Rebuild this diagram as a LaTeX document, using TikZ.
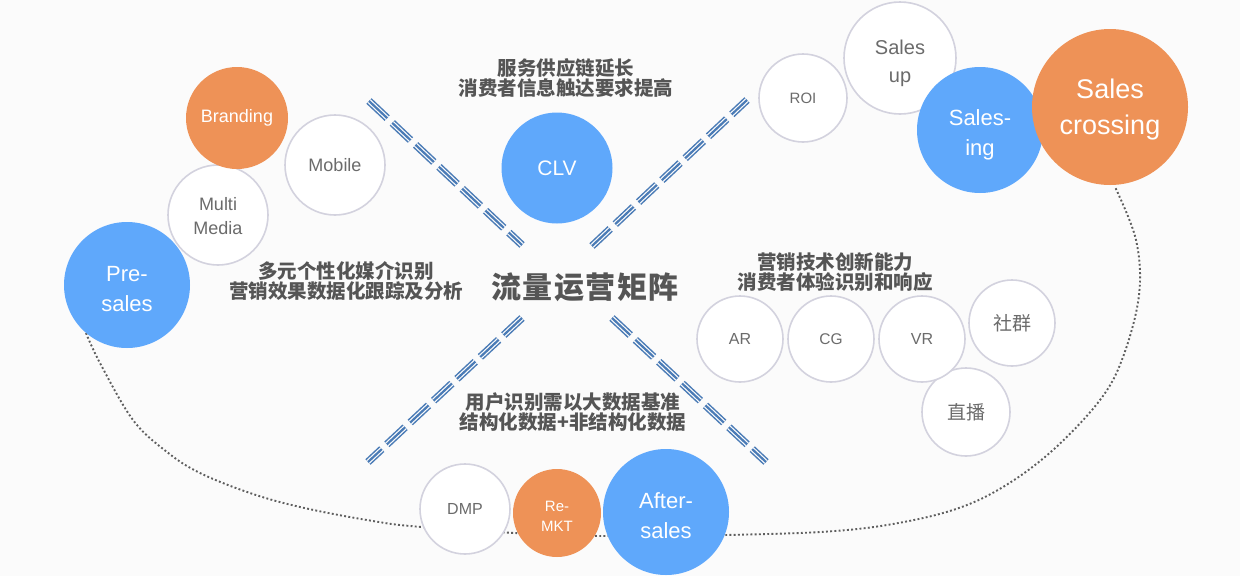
\documentclass[tikz,border=0pt]{standalone}
\usepackage{fontspec}
\setmainfont{Liberation Sans}
\newfontfamily\cjk{Noto Sans CJK SC}
\newfontfamily\cjkbig[LetterSpace=5]{Noto Sans CJK SC}
\newcommand\fsz[2]{\fontsize{#1}{#2}\selectfont}
\definecolor{bgc}{HTML}{FBFBFB}
\definecolor{orng}{HTML}{EE9257}
\definecolor{blu}{HTML}{5FA8FB}
\definecolor{ring}{HTML}{D3D2DE}
\definecolor{gtext}{HTML}{6B6B6B}
\definecolor{labc}{HTML}{555555}
\definecolor{lblue}{HTML}{4A7BB6}
\definecolor{dotc}{HTML}{5E5E5E}
\tikzset{
  circ/.style={circle, inner sep=0pt, align=center},
  wcirc/.style={circ, fill=white, draw=ring, line width=1.6pt, text=gtext},
  ocirc/.style={circ, fill=orng, text=white},
  bcirc/.style={circ, fill=blu, text=white},
  ctext/.style={inner sep=0pt, align=center},
  lab/.style={inner sep=0pt, align=center, text=labc, font=\cjk\bfseries\fsz{19.5}{20.5}},
  tri/.style={line width=7.6pt, draw=lblue, dash pattern=on 25pt off 7pt,
    postaction={draw=bgc, line width=4.6pt, dash pattern=on 25pt off 7pt},
    postaction={draw=lblue, line width=2.2pt, dash pattern=on 25pt off 7pt}},
  dotline/.style={draw=dotc, line width=1.9pt, dash pattern=on 1.9pt off 2.3pt}
}
\begin{document}
\begin{tikzpicture}[x=1pt,y=-1pt]
\useasboundingbox (0,0) rectangle (1240,576);
\fill[bgc] (0,0) rectangle (1240,576);

% dotted orbit
\draw[dotline] plot[smooth, tension=0.6] coordinates {
  (86,333) (100,363) (133,420) (167,452) (200,473) (250,493) (300,507)
  (367,520) (422,527) (557,535) (660,536) (727,535) (820,532) (887,525)
  (953,510) (1003,487) (1053,450) (1100,400) (1123,357) (1139,295)
  (1136,240) (1115,187)};

% triple dashed diagonals
\coordinate (ul1) at (369,101); \coordinate (ul2) at (522,245);
\coordinate (ur1) at (592,246); \coordinate (ur2) at (747,100);
\coordinate (ll1) at (368,462); \coordinate (ll2) at (522,318);
\coordinate (lr1) at (612,318); \coordinate (lr2) at (766,462);
\draw[tri] (ul1) -- (ul2);
\draw[tri] (ur1) -- (ur2);
\draw[tri] (ll2) -- (ll1);
\draw[tri] (lr1) -- (lr2);

% left cluster
\node[wcirc, minimum size=100pt] (multi) at (218,215) {};
\node[ctext, text=gtext, font=\fsz{18}{24}] (multit) at (218,216) {Multi\\Media};
\node[ocirc, minimum size=102pt, font=\fsz{18}{22}] (brand) at (237,118) {Branding};
\node[wcirc, minimum size=100pt, font=\fsz{18}{22}] (mobile) at (335,165) {Mobile};
\node[bcirc, minimum size=126pt] (pre) at (127,285) {};
\node[ctext, text=white, font=\fsz{22}{30}] (pret) at (127,289) {Pre-\\sales};

% top
\node[bcirc, minimum size=111pt, font=\fsz{21}{25}] (clv) at (557,168) {CLV};

% top right cluster
\node[wcirc, minimum size=88pt, font=\fsz{15}{20}] (roi) at (803,98) {ROI};
\node[wcirc, minimum size=112pt] (sup) at (900,58) {};
\node[ctext, text=gtext, font=\fsz{20}{28}] (supt) at (900,63) {Sales\\up};
\node[bcirc, minimum size=126pt] (sing) at (980,130) {};
\node[ctext, text=white, font=\fsz{22}{30}] (singt) at (980,135) {Sales-\\ing};
\node[ocirc, minimum size=156pt] (cross) at (1110,107) {};
\node[ctext, text=white, font=\fsz{27}{36}] (crosst) at (1110,110) {Sales\\crossing};

% right cluster
\node[wcirc, minimum size=86pt, font=\fsz{16}{20}] (ar) at (740,339) {AR};
\node[wcirc, minimum size=86pt, font=\fsz{15.5}{20}] (cg) at (831,339) {CG};
\node[wcirc, minimum size=88pt, font=\cjk\fsz{19}{22}] (live) at (966,412) {直播};
\node[wcirc, minimum size=86pt, font=\fsz{16}{20}] (vr) at (922,339) {VR};
\node[wcirc, minimum size=86pt, font=\cjk\fsz{19}{22}] (comm) at (1012,323) {社群};

% bottom cluster
\node[wcirc, minimum size=90pt, font=\fsz{16}{20}] (dmp) at (465,509) {DMP};
\node[ocirc, minimum size=88pt] (remkt) at (557,513) {};
\node[ctext, text=white, font=\fsz{15}{20}] (remktt) at (557,516) {Re-\\MKT};
\node[bcirc, minimum size=126pt] (after) at (666,512) {};
\node[ctext, text=white, font=\fsz{22}{30}] (aftert) at (666,516) {After-\\sales};

% labels
\node[lab] (t1) at (566,78) {服务供应链延长\\消费者信息触达要求提高};
\node[lab] (t2) at (346,281) {多元个性化媒介识别\\营销效果数据化跟踪及分析};
\node[lab] (t3) at (835,272) {营销技术创新能力\\消费者体验识别和响应};
\node[lab] (t4) at (573,412) {用户识别需以大数据基准\\结构化数据+非结构化数据};
\node[inner sep=0pt, text=labc, font=\cjkbig\bfseries\fsz{30}{32}] (title) at (585,287) {流量运营矩阵};
\end{tikzpicture}
\end{document}
